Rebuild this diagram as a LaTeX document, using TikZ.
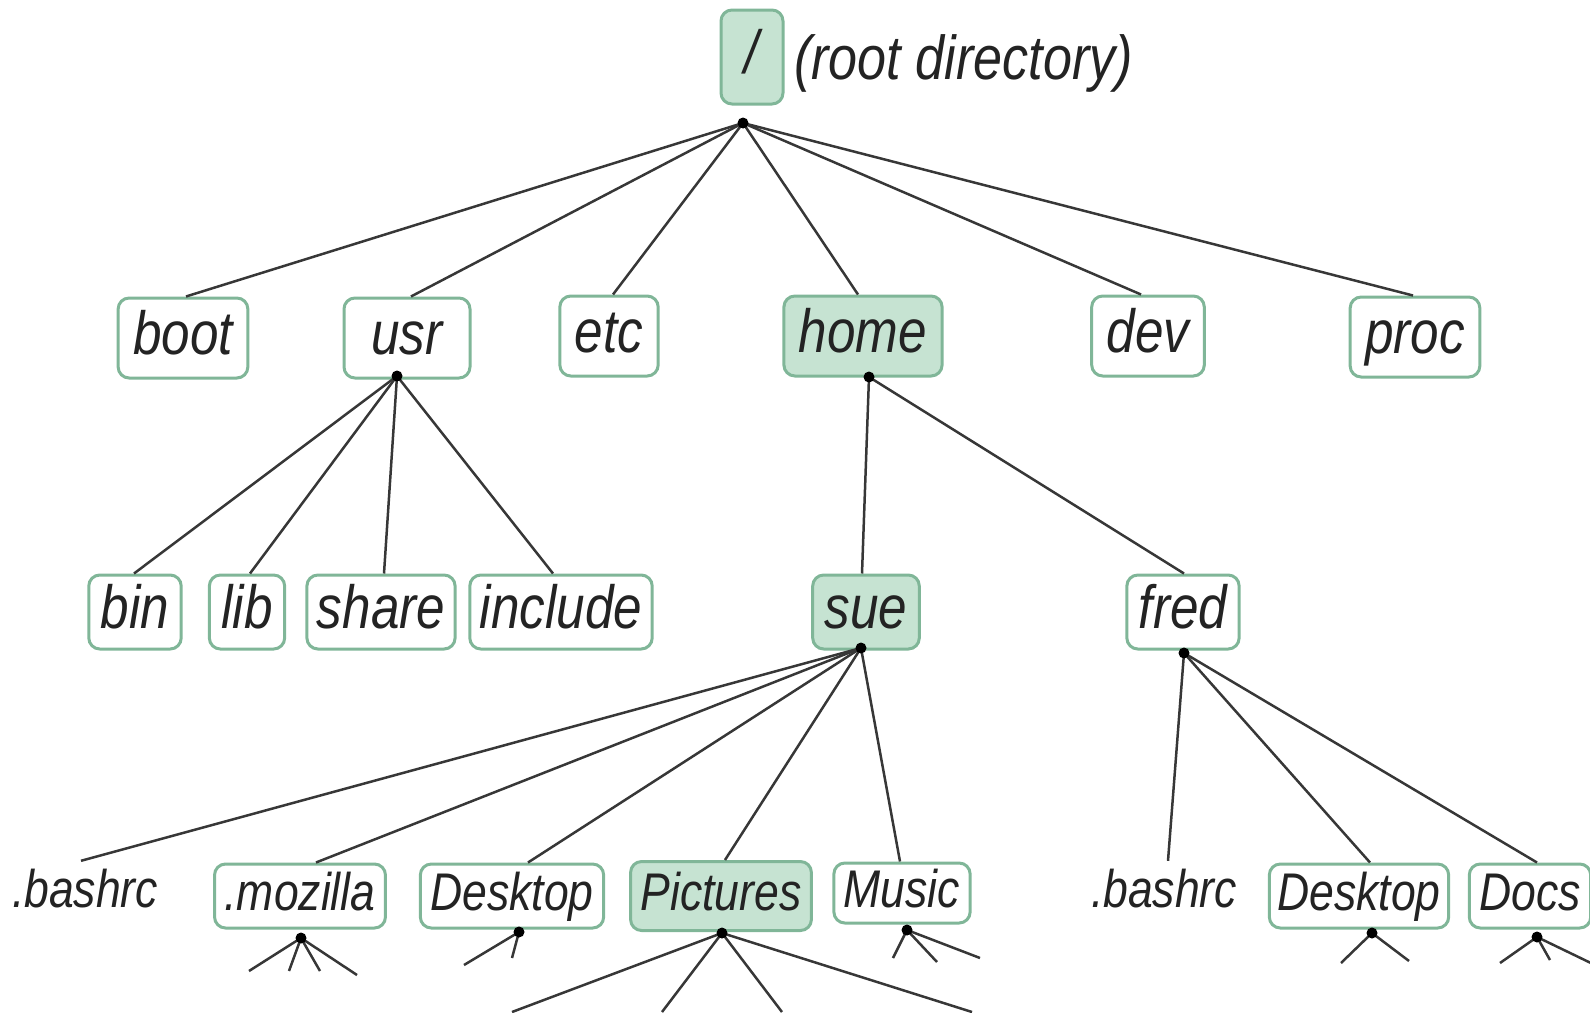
\documentclass[tikz,border=0pt]{standalone}
\usepackage{fontspec}
\setmainfont{Liberation Sans}[FakeStretch=0.84]
\definecolor{gborder}{RGB}{128,182,152}
\definecolor{gfill}{RGB}{198,227,210}
\definecolor{ink}{RGB}{35,35,35}
\definecolor{wirec}{RGB}{55,55,55}
\tikzset{
  dirbox/.style={draw=gborder, line width=3pt, rounded corners=11pt, fill=white,
    inner xsep=12pt, inner ysep=0pt, text=ink, anchor=center,
    font=\fontsize{61}{61}\selectfont\itshape, text height=44pt, text depth=12pt},
  lone/.style={dirbox, minimum height=80pt, inner xsep=15pt},
  ltwo/.style={dirbox, minimum height=74pt},
  lthree/.style={dirbox, minimum height=64pt, inner xsep=10pt,
    font=\fontsize{53}{53}\selectfont\itshape, text height=38pt, text depth=10pt},
  hl/.style={fill=gfill},
  plainlab/.style={text=ink, anchor=center, inner xsep=0pt, inner ysep=0pt, minimum height=64pt,
    font=\fontsize{53}{53}\selectfont\itshape, text height=38pt, text depth=10pt},
  wire/.style={draw=wirec, line width=2.5pt},
  jdot/.style={fill=black}
}
\begin{document}
\begin{tikzpicture}[x=1pt,y=-1pt]
\useasboundingbox (0,0) rectangle (1590,1012);
% root
\node[dirbox, hl, minimum width=62pt, minimum height=94pt, inner xsep=0pt] (root) at (752,57) {/};
\node[text=ink, anchor=west, inner sep=0pt, font=\fontsize{62}{62}\selectfont\itshape] (rootlab) at (794,63) {(root directory)};
\coordinate (rj) at (743,123);
% level 1
\node[lone] (boot) at (183,338) {boot};
\node[lone, minimum width=126pt] (usr) at (407,338) {usr};
\node[lone] (etc) at (609,336) {etc};
\node[lone, hl] (home) at (863,336) {home};
\node[lone] (dev) at (1148,336) {dev};
\node[lone] (proc) at (1415,337) {proc};
\coordinate (usrj) at (397,376);
\coordinate (homej) at (869,377);
% level 2
\node[ltwo] (bin) at (135,612) {bin};
\node[ltwo] (lib) at (247,612) {lib};
\node[ltwo, inner xsep=10pt] (share) at (381,612) {share};
\node[ltwo, inner xsep=10pt] (include) at (561,612) {include};
\node[ltwo, hl] (sue) at (866,612) {sue};
\node[ltwo] (fred) at (1183,612) {fred};
\coordinate (suej) at (861,648);
\coordinate (fredj) at (1184,653);
% level 3
\node[plainlab] (bash1) at (85,893) {.bashrc};
\node[lthree] (moz) at (300,896) {.mozilla};
\node[lthree] (desk1) at (512,896) {Desktop};
\node[lthree, hl, minimum height=69pt] (pics) at (721,896) {Pictures};
\node[lthree, minimum height=60pt] (music) at (902,893) {Music};
\node[plainlab] (bash2) at (1164,893) {.bashrc};
\node[lthree, inner xsep=8pt] (desk2) at (1359,896) {Desktop};
\node[lthree] (docs) at (1530,896) {Docs};
\coordinate (mozj) at (301,938);
\coordinate (desk1j) at (519,932);
\coordinate (picsj) at (722,933);
\coordinate (musicj) at (907,930);
\coordinate (desk2j) at (1372,933);
\coordinate (docsj) at (1537,937);
% connectors level 0 -> 1
\foreach \n/\dx in {boot/3,usr/4,etc/4,home/-5,dev/-7,proc/-2}
  \draw[wire] (rj) -- ([xshift=\dx pt]\n.north);
% usr -> level 2
\foreach \n/\dx in {bin/-1,lib/3,share/3,include/-8}
  \draw[wire] (usrj) -- ([xshift=\dx pt]\n.north);
% home -> sue, fred
\draw[wire] (homej) -- ([xshift=-4pt]sue.north);
\draw[wire] (homej) -- ([xshift=1pt]fred.north);
% sue -> level 3
\draw[wire] (suej) -- ([xshift=-4pt]bash1.north);
\draw[wire] (suej) -- ([xshift=16pt]moz.north);
\draw[wire] (suej) -- ([xshift=16pt]desk1.north);
\draw[wire] (suej) -- ([xshift=4pt]pics.north);
\draw[wire] (suej) -- ([xshift=-2pt]music.north);
% fred -> level 3
\draw[wire] (fredj) -- ([xshift=4pt]bash2.north);
\draw[wire] (fredj) -- ([xshift=11pt]desk2.north);
\draw[wire] (fredj) -- ([xshift=7pt]docs.north);
% stubs below level 3
\draw[wire] (mozj) -- ++(-52,33);
\draw[wire] (mozj) -- ++(-12,33);
\draw[wire] (mozj) -- ++(19,33);
\draw[wire] (mozj) -- ++(56,37);
\draw[wire] (desk1j) -- ++(-55,33);
\draw[wire] (desk1j) -- ++(-7,26);
\draw[wire] (picsj) -- ++(-210,79);
\draw[wire] (picsj) -- ++(-60,79);
\draw[wire] (picsj) -- ++(60,79);
\draw[wire] (picsj) -- ++(250,79);
\draw[wire] (musicj) -- ++(-14,28);
\draw[wire] (musicj) -- ++(30,32);
\draw[wire] (musicj) -- ++(73,28);
\draw[wire] (desk2j) -- ++(-31,30);
\draw[wire] (desk2j) -- ++(37,28);
\draw[wire] (docsj) -- ++(-37,26);
\draw[wire] (docsj) -- ++(13,23);
\draw[wire] (docsj) -- ++(58,28);
% junction dots
\foreach \j in {rj,usrj,homej,suej,fredj,mozj,desk1j,picsj,musicj,desk2j,docsj}
  \fill[jdot] (\j) circle (5.5pt);
\end{tikzpicture}
\end{document}
